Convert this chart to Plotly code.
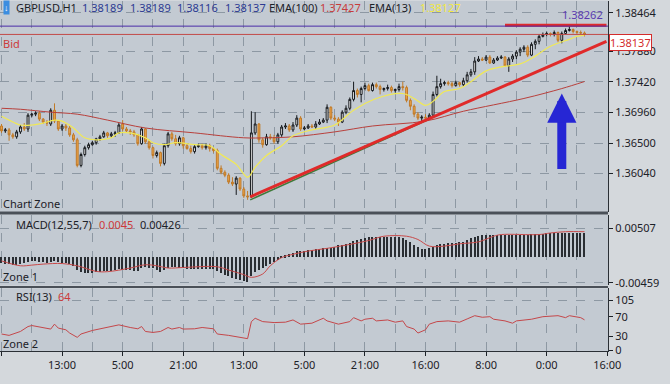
import plotly.graph_objects as go

# ---------------- data (prices in 1e-5 points) ----------------
bar_idx = list(range(155))

open_pts = [
136757,136683,136698,136623,136594,136668,136742,136712,136920,136935,
136950,136861,136816,136787,136994,136831,136712,136757,136727,136623,
136549,136163,136327,136430,136475,136505,136564,136594,136653,136609,
136638,136653,136787,136712,136683,136668,136623,136490,136712,136519,
136430,136312,136356,136193,136460,136638,136564,136490,136579,136460,
136416,136371,136445,136460,136430,136460,136416,136386,136119,136060,
136015,135911,135882,135971,135807,135703,135689,136653,136787,136549,
136475,136594,136579,136519,136623,136742,136757,136698,136772,136876,
136712,136727,136757,136742,136787,136816,136846,137039,136876,136861,
136816,136965,137024,137158,137291,137232,137321,137365,137291,137380,
137350,137306,137321,137336,137291,137306,137350,137336,137143,137054,
136935,136876,136890,136876,136920,137232,137350,137395,137410,137395,
137365,137410,137380,137439,137528,137573,137736,137766,137751,137795,
137706,137751,137781,137795,137662,137766,137810,137870,137914,137944,
137825,137988,138033,138107,138137,138152,138137,138166,138048,138152,
138196,138211,138181,138166,138159]
high_pts = [
136787,136727,136727,136653,136698,136772,136801,136950,136950,136979,
136979,136876,136846,137024,137098,136846,136787,136787,136757,136653,
136579,136356,136460,136505,136534,136579,136623,136683,136668,136668,
136683,136801,136846,136742,136712,136698,136638,136742,136727,136549,
136445,136386,136371,136490,136668,136668,136623,136609,136594,136490,
136460,136475,136490,136490,136490,136490,136430,136416,136163,136089,
136045,135985,136000,135985,135837,135778,136979,136965,136801,136579,
136638,136638,136623,136653,136772,136801,136787,136816,136920,136905,
136757,136787,136787,136831,136861,136876,137083,137054,136920,136890,
136994,137068,137187,137425,137321,137350,137410,137395,137410,137410,
137380,137336,137380,137365,137321,137395,137425,137365,137172,137083,
136965,136920,136935,136950,137276,137514,137469,137439,137439,137425,
137439,137425,137484,137573,137617,137795,137810,137795,137825,137825,
137781,137810,137825,137810,137795,137840,137899,137944,137974,137974,
138018,138063,138137,138166,138181,138166,138196,138181,138181,138226,
138262,138226,138196,138196,138181]
low_pts = [
136653,136653,136534,136564,136564,136638,136683,136668,136890,136905,
136831,136787,136757,136757,136801,136683,136683,136683,136594,136519,
136134,136134,136297,136401,136460,136475,136534,136579,136579,136579,
136594,136638,136683,136653,136623,136594,136460,136475,136490,136401,
136267,136282,136149,136163,136430,136534,136460,136460,136416,136401,
136341,136341,136430,136401,136401,136371,136356,136089,136030,135985,
135882,135852,135718,135778,135674,135644,135674,136623,136505,136430,
136460,136549,136490,136490,136594,136712,136668,136668,136742,136683,
136698,136712,136727,136712,136772,136801,136801,136846,136831,136757,
136801,136935,136994,137128,137187,137113,137291,137276,137276,137321,
137232,137276,137291,137261,137261,137276,137291,137113,136994,136890,
136846,136831,136816,136861,136890,137202,137321,137365,137365,137336,
137350,137350,137350,137410,137499,137528,137721,137736,137736,137692,
137692,137736,137766,137647,137573,137721,137766,137810,137870,137795,
137810,137914,137988,138092,138107,138107,138107,138018,138003,138137,
138181,138152,138137,138137,138107]
close_pts = [
136683,136698,136623,136594,136668,136742,136712,136920,136935,136950,
136861,136816,136801,136994,136831,136712,136757,136727,136623,136549,
136163,136327,136430,136475,136505,136564,136594,136653,136609,136638,
136653,136772,136712,136683,136668,136623,136490,136712,136519,136430,
136312,136356,136193,136460,136638,136564,136490,136579,136460,136416,
136371,136445,136460,136430,136460,136416,136386,136119,136060,136015,
135911,135882,135971,135807,135703,135689,136653,136787,136549,136475,
136594,136579,136519,136623,136742,136757,136698,136772,136876,136712,
136727,136757,136742,136787,136816,136846,137039,136876,136861,136816,
136965,137024,137158,137291,137232,137321,137365,137291,137380,137350,
137306,137321,137336,137291,137306,137350,137336,137143,137054,136935,
136876,136890,136876,136920,137232,137350,137395,137410,137395,137365,
137410,137380,137439,137528,137573,137736,137766,137751,137795,137706,
137751,137781,137795,137662,137766,137810,137870,137914,137944,137825,
137988,138033,138107,138137,138152,138137,138166,138048,138152,138196,
138211,138181,138166,138159,138137]

ema13_x = [0,2,5,8,11,14,16,19,22,25,29,31,34,38,40,43,46,51,55,58,
           62,65,67,70,74,77,82,88,93,99,106,109,112,114,117,121,124,128,132,137,
           141,145,150,152,154]
ema13_pts = [136905,136846,136772,136772,136801,136846,136831,136727,136579,136549,
             136579,136653,136653,136579,136505,136475,136505,136475,136460,136327,
             136178,135985,136134,136312,136460,136609,136698,136772,136994,137172,
             137247,137172,137068,137128,137276,137321,137425,137588,137647,137692,
             137810,137959,138063,138107,138127]
ema100_x = [0,5,13,20,28,38,51,64,70,77,88,98,112,122,138,148,154]
ema100_pts = [137024,137009,136965,136935,136846,136727,136653,136579,136579,136594,
              136668,136757,136831,136979,137172,137321,137427]

# MACD(12,55,7): histogram per bar and signal line (1e-5 units)
macd_hist_pts = [
-105,-114,-123,-132,-132,-123,-105,-88,
-70,-70,-88,-88,-97,-88,-70,-79,-97,-105,-123,-158,
-228,-263,-281,-281,-272,-263,-255,-246,
-246,-237,-228,-211,-220,-228,-228,-237,-246,
-193,-176,-184,-193,
-228,-255,-228,-184,
-176,-176,-184,-193,-202,-211,-202,-202,-202,-202,-202,-211,
-246,-281,-307,-334,-360,-378,-404,-430,-439,
-334,-263,-228,-193,-158,-123,-88,-44,9,
35,61,79,105,105,114,123,132,140,149,158,
167,167,193,220,228,246,263,299,316,325,342,360,
369,369,369,369,369,369,369,360,351,
316,272,228,176,149,140,
158,193,228,237,246,255,255,263,272,281,
316,342,369,386,395,
404,404,404,404,404,395,395,404,404,404,404,404,
410,415,420,425,428,430,432,433,433,432,431,430,429,428,426]
signal_x = [0,5,8,11,16,20,25,28,34,38,41,44,48,57,60,64,66,69,71,74,77,81,86,
            92,97,101,107,110,113,117,121,126,130,132,142,145,149,154]
signal_pts = [-70,-158,-146,-128,-118,-158,-258,-263,-198,-140,-158,-198,-188,-176,
              -234,-316,-364,-304,-158,-12,47,105,153,223,293,369,369,311,193,193,
              234,269,369,399,399,427,450,450]

# RSI(13)
rsi_x = [0,2,5,7,8,11,13,14,15,17,18,20,21,24,27,29,31,34,36,37,38,40,42,44,45,47,48,
         51,53,56,57,60,63,65,66,67,69,72,75,77,79,82,85,86,89,92,93,95,96,98,99,102,
         104,106,107,109,110,112,113,115,118,121,123,125,127,129,130,133,135,136,140,
         143,147,149,150,153,154]
rsi_vals = [34.4,31.5,39.7,50.0,52.1,48.0,44.7,55.0,46.7,43.2,36.4,27.4,34.4,41.8,46.7,
            50.0,53.5,48.0,45.3,50.0,39.7,37.7,39.7,48.0,44.7,48.0,44.7,45.3,48.0,45.3,
            34.4,31.5,28.2,24.7,60.3,67.3,60.3,58.3,59.1,63.8,55.0,57.0,67.3,61.8,55.0,
            60.3,68.6,61.8,65.3,67.3,61.8,63.8,59.1,61.8,50.0,44.7,36.4,43.2,55.0,60.3,
            61.8,59.1,65.9,72.7,69.4,70.6,65.3,61.8,57.0,61.8,65.3,70.6,72.7,68.6,72.7,
            68.6,64.0]

# drawn objects
trend_x = [65.7, 159.8]
trend_pts = [135689, 138033]
trend2_x = [65.7, 113.6]
trend2_pts = [135644, 136876]
res_x = [133, 159.8]
res_pts = [138275, 138275]
high_level = 1.38262
bid_level = 1.38137
arrow_x, arrow_tip = 148, 1.37247

tick_pos = [0, 16, 32, 48, 64, 80, 96, 112, 128, 144, 160]
tick_labels = ["0:00", "13:00", "5:00", "21:00", "13:00", "5:00", "21:00",
               "16:00", "8:00", "0:00", "16:00"]
price_ticks = [1.35462, 1.36040, 1.36500, 1.36960, 1.37420, 1.37880, 1.38464]
macd_ticks = [-0.00459, 0.00507]
rsi_ticks = [0, 30, 70, 105]

header_vals = ["1.38189", "1.38189", "1.38116", "1.38137"]

PT = 1e5
opens = [v / PT for v in open_pts]
highs = [v / PT for v in high_pts]
lows = [v / PT for v in low_pts]
closes = [v / PT for v in close_pts]
ema13 = [v / PT for v in ema13_pts]
ema100 = [v / PT for v in ema100_pts]
macd_hist = [v / PT for v in macd_hist_pts]
signal = [v / PT for v in signal_pts]
trend_y = [v / PT for v in trend_pts]
trend2_y = [v / PT for v in trend2_pts]
res_y = [v / PT for v in res_pts]
minor_pos = [(a + b) / 2 for a, b in zip(tick_pos, tick_pos[1:])]

# ---------------- figure ----------------
W, H = 670, 384
FONT = "Noto Sans"
DARK = "#1c2127"
GRID = "#8d98a3"

fig = go.Figure()

fig.add_trace(go.Candlestick(
    x=bar_idx, open=opens, high=highs, low=lows, close=closes,
    increasing=dict(line=dict(color="#15181c", width=1), fillcolor="#f4f4f4"),
    decreasing=dict(line=dict(color="#c07a28", width=1), fillcolor="#eda549"),
    whiskerwidth=0, xaxis="x", yaxis="y", hoverinfo="skip", showlegend=False))

fig.add_trace(go.Scatter(x=ema100_x, y=ema100, mode="lines", line=dict(color="#b8403c", width=1, shape="spline"),
                         xaxis="x", yaxis="y", hoverinfo="skip", showlegend=False))
fig.add_trace(go.Scatter(x=ema13_x, y=ema13, mode="lines", line=dict(color="#f1e955", width=1.2, shape="spline"),
                         xaxis="x", yaxis="y", hoverinfo="skip", showlegend=False))
fig.add_trace(go.Scatter(x=trend2_x, y=trend2_y, mode="lines", line=dict(color="#3f7a3a", width=1.5),
                         xaxis="x", yaxis="y", hoverinfo="skip", showlegend=False))
fig.add_trace(go.Scatter(x=trend_x, y=trend_y, mode="lines", line=dict(color="#e02a2a", width=3),
                         xaxis="x", yaxis="y", hoverinfo="skip", showlegend=False))
fig.add_trace(go.Scatter(x=res_x, y=res_y, mode="lines", line=dict(color="#e02a2a", width=3),
                         xaxis="x", yaxis="y", hoverinfo="skip", showlegend=False))
fig.add_trace(go.Scatter(x=[-0.4, 160.2], y=[high_level, high_level], mode="lines",
                         line=dict(color="#4a2ba8", width=1),
                         xaxis="x", yaxis="y", hoverinfo="skip", showlegend=False))
fig.add_trace(go.Scatter(x=[-0.4, 160.2], y=[bid_level, bid_level], mode="lines",
                         line=dict(color="#c24a48", width=1),
                         xaxis="x", yaxis="y", hoverinfo="skip", showlegend=False))

fig.add_trace(go.Bar(x=bar_idx, y=macd_hist, width=0.38, marker=dict(color="#2a2e33", line=dict(width=0)),
                     xaxis="x2", yaxis="y2", hoverinfo="skip", showlegend=False))
fig.add_trace(go.Scatter(x=signal_x, y=signal, mode="lines", line=dict(color="#c84a4a", width=1, shape="spline"),
                         xaxis="x2", yaxis="y2", hoverinfo="skip", showlegend=False))

fig.add_trace(go.Scatter(x=rsi_x, y=rsi_vals, mode="lines", line=dict(color="#c4474a", width=1),
                         xaxis="x3", yaxis="y3", hoverinfo="skip", showlegend=False))

def py(p):
    return 1 - p / H

xdom = [0, 620 / W]
xr = [-0.4, 160.2]
common_x = dict(domain=xdom, range=xr, tickmode="array", tickvals=tick_pos, showgrid=True,
                gridcolor=GRID, griddash="dash", gridwidth=1, zeroline=False,
                minor=dict(tickvals=minor_pos, showgrid=True, gridcolor=GRID, griddash="dash", ticks=""),
                fixedrange=True)
fig.update_layout(
    xaxis=dict(common_x, anchor="y", showticklabels=False, ticks="", rangeslider=dict(visible=False)),
    xaxis2=dict(common_x, anchor="y2", showticklabels=False, ticks="", matches="x"),
    xaxis3=dict(common_x, anchor="y3", ticktext=tick_labels, ticks="outside", ticklen=4,
                tickcolor=DARK, showline=True, linecolor="#2a2f35", linewidth=1, matches="x",
                tickfont=dict(size=11, color=DARK)),
)
common_y = dict(side="right", showline=True, linecolor="#2a2f35", linewidth=1, ticks="outside",
                ticklen=4, tickcolor=DARK, tickfont=dict(size=11, color=DARK), zeroline=False,
                gridcolor=GRID, griddash="dash", fixedrange=True)
fig.update_layout(
    yaxis=dict(common_y, anchor="x", domain=[py(215), py(1)], range=[1.35466, 1.38641],
               tickvals=price_ticks, ticktext=[f"{v:.5f}" for v in price_ticks], showgrid=True),
    yaxis2=dict(common_y, anchor="x2", domain=[py(290), py(218)], range=[-0.00509, 0.00755],
                tickvals=macd_ticks, ticktext=[f"{v:.5f}" for v in macd_ticks], showgrid=True),
    yaxis3=dict(common_y, anchor="x3", domain=[py(356.5), py(293)], range=[-1.0, 129.7],
                tickvals=rsi_ticks, ticktext=[str(v) for v in rsi_ticks], showgrid=False,
                minor=dict(tickvals=[105], showgrid=True, gridcolor=GRID, griddash="dash", ticks="")),
)

shapes = [
    dict(type="line", xref="paper", x0=0, x1=620 / W, yref="paper", y0=py(216.5), y1=py(216.5),
         line=dict(color="#4a5058", width=3)),
    dict(type="line", xref="paper", x0=0, x1=620 / W, yref="paper", y0=py(291.5), y1=py(291.5),
         line=dict(color="#4a5058", width=2)),
]

ann = []
def txt(x, y, s, color=DARK, size=11, **kw):
    d = dict(xref="paper", yref="paper", x=x / W, y=py(y), text=s, showarrow=False,
             xanchor="left", yanchor="middle", font=dict(family=FONT, size=size, color=color))
    d.update(kw)
    ann.append(d)

txt(3, 8, "↓", color="white", size=9, bgcolor="#3b8de0", borderpad=0)
txt(14, 8, "GBPUSD,H1")
for xpos, v in zip([82, 131, 178, 227], header_vals):
    txt(xpos, 8, v, color="#2c3a92")
txt(272, 8, "EMA(100)")
txt(324, 8, f"{ema100[-1]:.5f}", color="#c83c3c")
txt(374, 8, "EMA(13)")
txt(426, 8, f"{ema13[-1]:.5f}", color="#f2e840")
txt(1, 44, "Bid", color="#cc3a3a")
txt(617, 15, f"{high_level:.5f}", color="#5a3bb0", xanchor="right")
txt(1, 207, "Chart Zone")
txt(14, 228, "MACD(12,55,7)")
txt(99, 228, f"{signal[-1]:.4f}", color="#cc3a3a")
txt(141, 228, f"{macd_hist[-1]:.5f}")
txt(1, 281, "Zone 1")
txt(14, 301, "RSI(13)")
txt(57, 301, f"{rsi_vals[-1]:.0f}", color="#cc3a3a")
txt(1, 349, "Zone 2")

ann.append(dict(xref="paper", x=621 / W, yref="y", y=bid_level, text=f"{bid_level:.5f}",
                showarrow=False, xanchor="left", yanchor="top", bgcolor="white",
                bordercolor="#d42c2c", borderwidth=1, borderpad=0,
                font=dict(family=FONT, size=11, color="#d42c2c")))
ann.append(dict(xref="x", x=arrow_x, yref="y", y=arrow_tip, ax=0, ay=77, text="",
                showarrow=True, arrowhead=2, arrowsize=0.65, arrowwidth=9,
                arrowcolor="#2626d4", standoff=0))

fig.update_layout(
    width=W, height=H, margin=dict(l=0, r=0, t=0, b=0),
    paper_bgcolor="#d4d8dc", plot_bgcolor="#c3cad2",
    font=dict(family=FONT, size=11, color=DARK),
    shapes=shapes, annotations=ann, showlegend=False, bargap=0,
    hovermode=False,
)

fig.write_html("out.html", config={"displayModeBar": False},
               post_script="document.body.style.margin='0';document.body.style.overflow='hidden';")
